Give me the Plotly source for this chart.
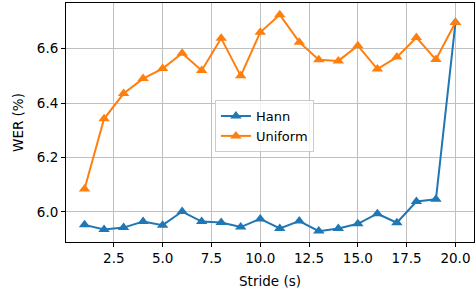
import plotly.graph_objects as go

stride = list(range(1, 21))
hann = [5.952, 5.935, 5.942, 5.964, 5.951, 6.001, 5.964, 5.961, 5.944, 5.974,
        5.939, 5.966, 5.929, 5.939, 5.956, 5.993, 5.960, 6.038, 6.046, 6.696]
uniform = [6.084, 6.342, 6.435, 6.490, 6.527, 6.583, 6.520, 6.638, 6.500, 6.660,
           6.725, 6.624, 6.559, 6.555, 6.611, 6.525, 6.569, 6.641, 6.560, 6.696]
xticks = [2.5, 5.0, 7.5, 10.0, 12.5, 15.0, 17.5, 20.0]
yticks = [6.0, 6.2, 6.4, 6.6]

font = dict(family="DejaVu Sans", size=13.5, color="black")

fig = go.Figure()
fig.add_trace(go.Scatter(x=stride, y=hann, name="Hann", mode="lines+markers",
                         line=dict(color="#1f77b4", width=2),
                         marker=dict(symbol="triangle-up", size=10, color="#1f77b4")))
fig.add_trace(go.Scatter(x=stride, y=uniform, name="Uniform", mode="lines+markers",
                         line=dict(color="#ff7f0e", width=2),
                         marker=dict(symbol="triangle-up", size=10, color="#ff7f0e")))

axis_common = dict(showline=True, linecolor="black", linewidth=1, mirror=True,
                   ticks="outside", ticklen=4, tickcolor="black", tickwidth=1,
                   showgrid=True, gridcolor="#c0c0c0", gridwidth=1,
                   zeroline=False, tickfont=font, automargin=False)

fig.update_layout(
    width=476, height=289,
    margin=dict(l=66, r=2, t=3, b=47),
    paper_bgcolor="white", plot_bgcolor="white",
    font=font,
    showlegend=True,
    legend=dict(x=0.365, y=0.594, xanchor="left", yanchor="top",
                bgcolor="rgba(255,255,255,0.8)", bordercolor="#cccccc", borderwidth=1,
                font=dict(family="DejaVu Sans", size=13, color="black"), tracegroupgap=0),
    xaxis=dict(range=[0.05, 20.95], tickvals=xticks,
               ticktext=[f"{v:.1f}" for v in xticks],
               title=dict(text="Stride (s)", font=font, standoff=11), **axis_common),
    yaxis=dict(range=[5.889, 6.768], tickvals=yticks,
               ticktext=[f"{v:.1f}" for v in yticks],
               title=dict(text="WER (%)", font=font, standoff=10), **axis_common),
)

fig.write_html("out.html", config={"displayModeBar": False},
               post_script="document.body.style.margin='0';document.body.style.padding='0';")
